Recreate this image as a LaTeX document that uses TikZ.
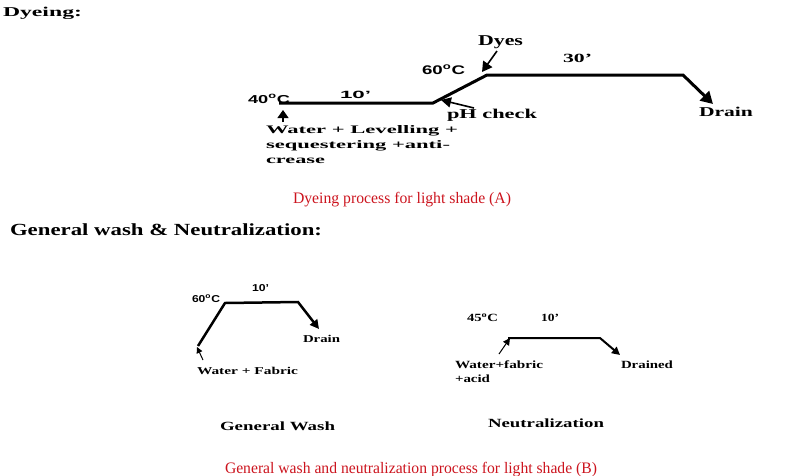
\documentclass[tikz,border=0pt]{standalone}
\usepackage{graphicx}
\usepackage{fontspec}
\setmainfont{Liberation Serif}
\setsansfont{Liberation Sans}
\usetikzlibrary{arrows.meta}
\definecolor{capred}{RGB}{204,20,30}
\newcommand{\fw}[2]{\resizebox{#1pt}{\height}{#2}}
\newcommand{\fsz}[1]{\fontsize{#1}{#1}\selectfont}
\tikzset{
  lab/.style={anchor=base west, inner sep=0pt, outer sep=0pt},
  sb/.style={lab, font=\bfseries},
  ss/.style={lab, font=\sffamily\bfseries},
  captxt/.style={lab, text=capred},
  proc/.style={line width=#1, line join=miter, line cap=butt},
}
\begin{document}
\begin{tikzpicture}[x=1pt, y=-1pt]
\useasboundingbox (0,0) rectangle (790,475);
% ---------- Dyeing ----------
\node[sb] (hdye) at (3,16) {\fsz{13.5}\fw{79}{Dyeing:}};
\node[ss] (t40) at (248,103) {\fsz{11.5}\fw{42}{40\textsuperscript{o}C}};
\node[ss] (t10a) at (340,98) {\fsz{10.5}\fw{31}{10’}};
\node[sb] (wl1) at (266,133) {\fsz{11.5}\fw{192}{Water + Levelling +}};
\node[sb] (wl2) at (266,148) {\fsz{11.5}\fw{184}{sequestering +anti-}};
\node[sb] (wl3) at (266,163) {\fsz{11.5}\fw{59}{crease}};
\node[ss] (t60a) at (422,74) {\fsz{12.5}\fw{43}{60\textsuperscript{o}C}};
\node[sb] (dyes) at (478,45) {\fsz{15}\fw{45}{Dyes}};
\node[sb] (t30) at (563,62) {\fsz{12.5}\fw{29}{30’}};
\node[sb] (ph) at (447,118) {\fsz{13.5}\fw{90}{pH check}};
\node[sb] (drain1) at (699,116) {\fsz{13.5}\fw{54}{Drain}};

\coordinate (d1) at (279,103);
\coordinate (d2) at (433,103);
\coordinate (d3) at (487,75);
\coordinate (d4) at (683,75);
\coordinate (d5) at (713,104);
\draw[proc=3pt, -{Triangle[length=12pt,width=13pt]}] (d1) -- (d2) -- (d3) -- (d4) -- (d5);

\coordinate (a40t) at (283,122);
\coordinate (a40h) at (283,110);
\draw[line width=1.3pt, -{Triangle[length=8pt,width=11pt]}] (a40t) -- (a40h);
\coordinate (adt) at (497,51);
\coordinate (adh) at (482,72);
\draw[line width=1.6pt, -{Triangle[length=10pt,width=11pt]}] (adt) -- (adh);
\coordinate (apt) at (474,108);
\coordinate (aph) at (441,100);
\draw[line width=1.6pt, -{Triangle[length=10pt,width=10pt]}] (apt) -- (aph);

\node[captxt] (capa) at (293,203) {\fsz{16}\fw{218}{Dyeing process for light shade (A)}};

% ---------- General wash & Neutralization ----------
\node[sb] (hgw) at (10,235) {\fsz{17}\fw{312}{General wash \& Neutralization:}};

% General wash
\node[ss] (t60b) at (192,302) {\fsz{10}\fw{28}{60\textsuperscript{o}C}};
\node[ss] (t10b) at (252,291) {\fsz{10}\fw{17}{10’}};
\node[sb] (drain2) at (303,342) {\fsz{10.5}\fw{37}{Drain}};
\node[sb] (wf) at (197,374) {\fsz{10.5}\fw{101}{Water + Fabric}};
\coordinate (g1) at (198,346);
\coordinate (g2) at (225,303);
\coordinate (g3) at (298,302);
\coordinate (g4) at (319,329);
\draw[proc=2.5pt, -{Triangle[length=9pt,width=9pt]}] (g1) -- (g2) -- (g3) -- (g4);
\coordinate (gwt) at (203,360);
\coordinate (gwh) at (197,347);
\draw[line width=1pt, -{Triangle[length=6pt,width=6pt]}] (gwt) -- (gwh);
\node[sb] (gwlab) at (220,430) {\fsz{12.5}\fw{115}{General Wash}};

% Neutralization
\node[sb] (t45) at (467,321) {\fsz{11}\fw{31}{45\textsuperscript{o}C}};
\node[sb] (t10c) at (541,321) {\fsz{11}\fw{18}{10’}};
\node[sb] (nw1) at (455,368) {\fsz{11}\fw{88}{Water+fabric}};
\node[sb] (nw2) at (455,382) {\fsz{11}\fw{35}{+acid}};
\node[sb] (drained) at (621,368) {\fsz{11}\fw{52}{Drained}};
\coordinate (n1) at (508,338);
\coordinate (n2) at (600,338);
\coordinate (n3) at (620,355);
\draw[proc=2pt, -{Triangle[length=8pt,width=8pt]}] (n1) -- (n2) -- (n3);
\coordinate (nwt) at (499,354);
\coordinate (nwh) at (510,338);
\draw[line width=1pt, -{Triangle[length=7pt,width=7pt]}] (nwt) -- (nwh);
\node[sb] (nlab) at (488,427) {\fsz{12.5}\fw{116}{Neutralization}};

\node[captxt] (capb) at (225,473) {\fsz{16}\fw{372}{General wash and neutralization process for light shade (B)}};
\end{tikzpicture}
\end{document}
